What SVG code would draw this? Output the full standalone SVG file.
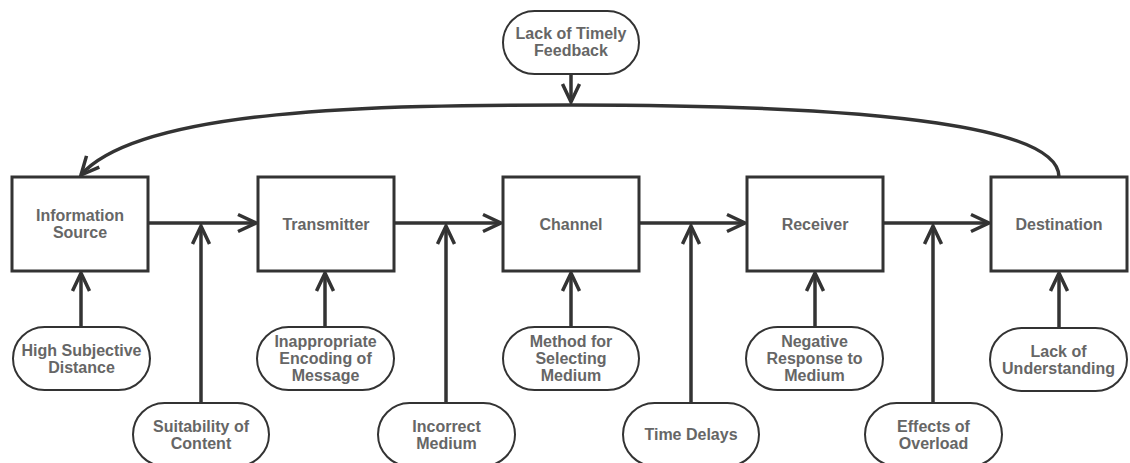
<svg xmlns="http://www.w3.org/2000/svg" width="1130" height="463" viewBox="0 0 1130 463">
<style>
.box{fill:#fff;stroke:#333;stroke-width:3}
.pill{fill:#fff;stroke:#333;stroke-width:2}
.t{font-family:"Liberation Sans",Arial,sans-serif;font-weight:bold;font-size:16px;fill:#666;text-anchor:middle}
.c{fill:none;stroke:#333;stroke-width:3.5}
</style>
<defs>
<marker id="ah" markerUnits="userSpaceOnUse" orient="auto" overflow="visible" markerWidth="20" markerHeight="20" refX="0" refY="0">
<path d="M-18,-8.5 L0,0 L-18,8.5" fill="none" stroke="#333" stroke-width="3.5" stroke-linejoin="miter"/>
</marker>
</defs>
<rect width="1130" height="463" fill="#fff"/>
<g id="connectors">
<path class="c" d="M148,223 L256,223" marker-end="url(#ah)"/>
<path class="c" d="M394,223 L501,223" marker-end="url(#ah)"/>
<path class="c" d="M639,223 L745,223" marker-end="url(#ah)"/>
<path class="c" d="M883,223 L989,223" marker-end="url(#ah)"/>
<path class="c" d="M201,403 L201,226" marker-end="url(#ah)"/>
<path class="c" d="M446,403 L446,226" marker-end="url(#ah)"/>
<path class="c" d="M691,403 L691,226" marker-end="url(#ah)"/>
<path class="c" d="M933,403 L933,226" marker-end="url(#ah)"/>
<path class="c" d="M81,327 L81,273" marker-end="url(#ah)"/>
<path class="c" d="M325,327 L325,273" marker-end="url(#ah)"/>
<path class="c" d="M571,327 L571,273" marker-end="url(#ah)"/>
<path class="c" d="M815,327 L815,273" marker-end="url(#ah)"/>
<path class="c" d="M1059,328 L1059,273" marker-end="url(#ah)"/>
<path class="c" d="M571,74 L571,102" marker-end="url(#ah)"/>
<path class="c" d="M1059,177 Q1059,105 571,105 C380,105 140,108 81,175" marker-end="url(#ah)"/>
</g>
<g id="information-source"><rect class="box" x="12" y="177" width="136" height="94"/><text class="t" x="80" y="221">Information</text><text class="t" x="80" y="238">Source</text></g>
<g id="transmitter"><rect class="box" x="258" y="177" width="136" height="94"/><text class="t" x="326" y="230">Transmitter</text></g>
<g id="channel"><rect class="box" x="503" y="177" width="136" height="94"/><text class="t" x="571" y="230">Channel</text></g>
<g id="receiver"><rect class="box" x="747" y="177" width="136" height="94"/><text class="t" x="815" y="230">Receiver</text></g>
<g id="destination"><rect class="box" x="991" y="177" width="136" height="94"/><text class="t" x="1059" y="230">Destination</text></g>
<g id="lack-of-timely-feedback"><rect class="pill" x="503" y="11" width="136" height="63" rx="31.5"/><text class="t" x="571" y="39">Lack of Timely</text><text class="t" x="571" y="56">Feedback</text></g>
<g id="high-subjective-distance"><rect class="pill" x="13" y="327" width="137" height="63" rx="31.5"/><text class="t" x="81.5" y="356">High Subjective</text><text class="t" x="81.5" y="373">Distance</text></g>
<g id="suitability-of-content"><rect class="pill" x="133" y="403" width="136" height="63" rx="31.5"/><text class="t" x="201" y="432">Suitability of</text><text class="t" x="201" y="449">Content</text></g>
<g id="inappropriate-encoding"><rect class="pill" x="257" y="327" width="137" height="63" rx="31.5"/><text class="t" x="325.5" y="347">Inappropriate</text><text class="t" x="325.5" y="364">Encoding of</text><text class="t" x="325.5" y="381">Message</text></g>
<g id="incorrect-medium"><rect class="pill" x="378" y="403" width="137" height="63" rx="31.5"/><text class="t" x="446.5" y="432">Incorrect</text><text class="t" x="446.5" y="449">Medium</text></g>
<g id="method-for-selecting-medium"><rect class="pill" x="503" y="327" width="136" height="63" rx="31.5"/><text class="t" x="571" y="347">Method for</text><text class="t" x="571" y="364">Selecting</text><text class="t" x="571" y="381">Medium</text></g>
<g id="time-delays"><rect class="pill" x="623" y="403" width="136" height="63" rx="31.5"/><text class="t" x="691" y="440">Time Delays</text></g>
<g id="negative-response"><rect class="pill" x="746" y="327" width="137" height="63" rx="31.5"/><text class="t" x="814.5" y="347">Negative</text><text class="t" x="814.5" y="364">Response to</text><text class="t" x="814.5" y="381">Medium</text></g>
<g id="effects-of-overload"><rect class="pill" x="865" y="403" width="137" height="63" rx="31.5"/><text class="t" x="933.5" y="432">Effects of</text><text class="t" x="933.5" y="449">Overload</text></g>
<g id="lack-of-understanding"><rect class="pill" x="990" y="328" width="137" height="63" rx="31.5"/><text class="t" x="1058.5" y="357">Lack of</text><text class="t" x="1058.5" y="374">Understanding</text></g>
</svg>
